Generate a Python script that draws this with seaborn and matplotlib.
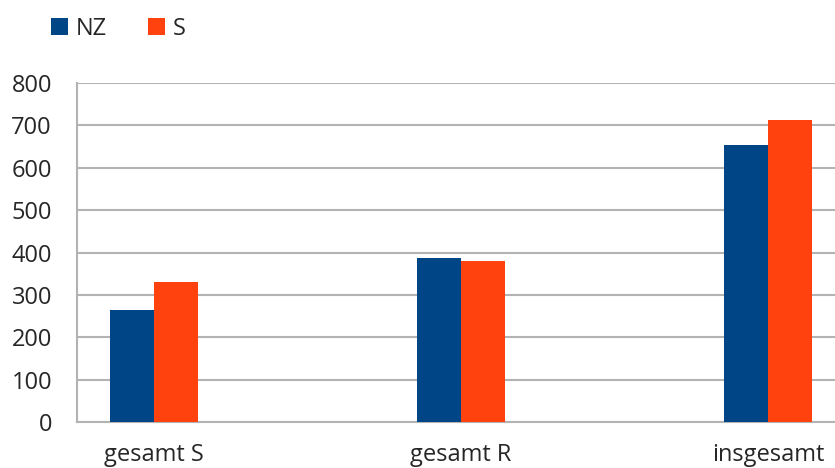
import matplotlib
matplotlib.use("Agg")
import matplotlib.pyplot as plt
import seaborn as sns
import pandas as pd

categories = ["gesamt S", "gesamt R", "insgesamt"]
nz_values = [264, 386, 653]
s_values = [330, 381, 712]
series_names = ["NZ", "S"]
colors = ["#004586", "#ff420e"]
y_ticks = [0, 100, 200, 300, 400, 500, 600, 700, 800]

df = pd.DataFrame({
    "cat": categories * 2,
    "value": nz_values + s_values,
    "series": [series_names[0]] * 3 + [series_names[1]] * 3,
})

sns.set_style("white")
plt.rcParams["font.family"] = ["Open Sans", "DejaVu Sans"]

fig = plt.figure(figsize=(8.35, 4.68), dpi=100)
ax = fig.add_axes([77 / 835, 1 - 422 / 468, 1 - 77 / 835, (422 - 83) / 468])

sns.barplot(data=df, x="cat", y="value", hue="series", palette=colors,
            width=0.287, ax=ax, legend=True, saturation=1, zorder=3,
            linewidth=0)

ax.set_ylim(0, 800)
ax.set_yticks(y_ticks)
ax.set_xlim(-0.25, 2.218)
ax.yaxis.grid(True, color="#b3b3b3", linewidth=1.5, zorder=0)
ax.set_axisbelow(True)
ax.set_xlabel("")
ax.set_ylabel("")
for side in ["top", "right"]:
    ax.spines[side].set_visible(False)
for side in ["left", "bottom"]:
    ax.spines[side].set_color("#b3b3b3")
    ax.spines[side].set_linewidth(1.5)
ax.tick_params(axis="y", length=0, pad=18, labelsize=17)
ax.tick_params(axis="x", length=0, pad=15, labelsize=17)

ax.legend(loc="center left", bbox_to_anchor=(51 / 835, 1 - 29 / 468),
          bbox_transform=fig.transFigure, ncol=2, frameon=False,
          handlelength=0.7, handleheight=0.7, handletextpad=0.35,
          columnspacing=1.75, fontsize=17, borderpad=0, borderaxespad=0)

fig.savefig("out.png", dpi=100)
